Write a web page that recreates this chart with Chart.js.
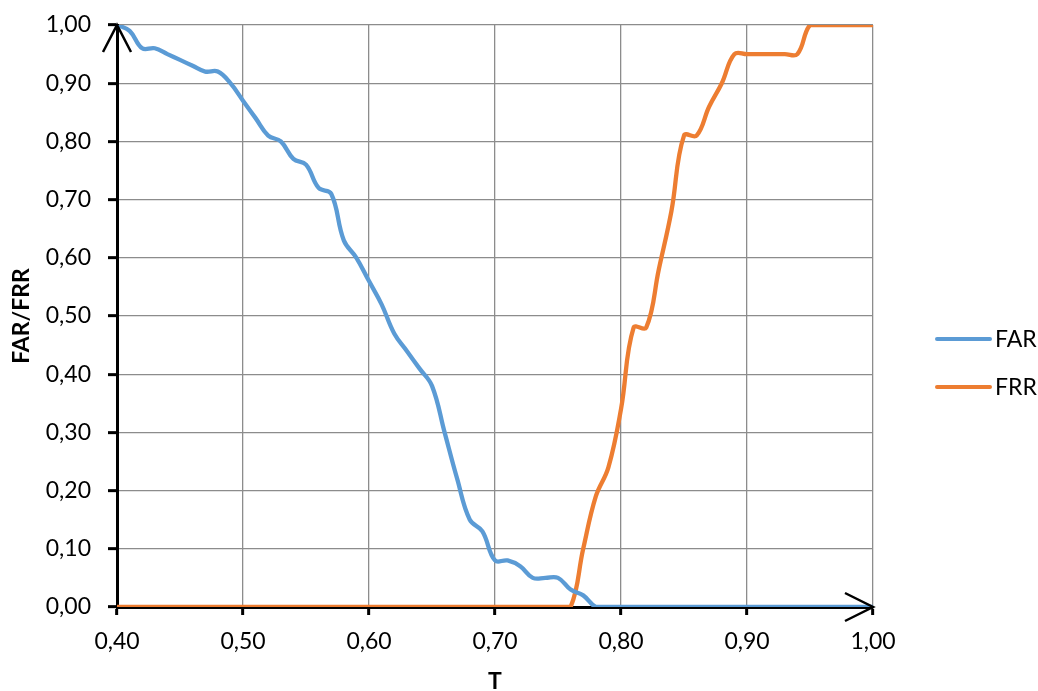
<!DOCTYPE html>
<html>
<head>
<meta charset="utf-8">
<title>FAR / FRR</title>
<script src="https://cdn.jsdelivr.net/npm/chart.js@4.4.1/dist/chart.umd.min.js"></script>
<style>
  html, body { margin: 0; padding: 0; background: #ffffff; }
  #wrap { width: 1038px; height: 691px; }
</style>
</head>
<body>
<div id="wrap"><canvas id="c" width="1038" height="691"></canvas></div>
<script>
// Threshold values T
const thresholds = [
  0.40, 0.41, 0.42, 0.43, 0.44, 0.45, 0.46, 0.47, 0.48, 0.49,
  0.50, 0.51, 0.52, 0.53, 0.54, 0.55, 0.56, 0.57, 0.58, 0.59,
  0.60, 0.61, 0.62, 0.63, 0.64, 0.65, 0.66, 0.67, 0.68, 0.69,
  0.70, 0.71, 0.72, 0.73, 0.74, 0.75, 0.76, 0.77, 0.78, 0.79,
  0.80, 0.81, 0.82, 0.83, 0.84, 0.85, 0.86, 0.87, 0.88, 0.89,
  0.90, 0.91, 0.92, 0.93, 0.94, 0.95, 0.96, 0.97, 0.98, 0.99,
  1.00
];

// False acceptance rate per threshold
const farValues = [
  1.00, 0.99, 0.96, 0.96, 0.95, 0.94, 0.93, 0.92, 0.92, 0.90,
  0.87, 0.84, 0.81, 0.80, 0.77, 0.76, 0.72, 0.71, 0.63, 0.60,
  0.56, 0.52, 0.47, 0.44, 0.41, 0.38, 0.30, 0.22, 0.15, 0.13,
  0.08, 0.08, 0.07, 0.05, 0.05, 0.05, 0.03, 0.02, 0.00, 0.00,
  0.00, 0.00, 0.00, 0.00, 0.00, 0.00, 0.00, 0.00, 0.00, 0.00,
  0.00, 0.00, 0.00, 0.00, 0.00, 0.00, 0.00, 0.00, 0.00, 0.00,
  0.00
];

// False rejection rate per threshold
const frrValues = [
  0.00, 0.00, 0.00, 0.00, 0.00, 0.00, 0.00, 0.00, 0.00, 0.00,
  0.00, 0.00, 0.00, 0.00, 0.00, 0.00, 0.00, 0.00, 0.00, 0.00,
  0.00, 0.00, 0.00, 0.00, 0.00, 0.00, 0.00, 0.00, 0.00, 0.00,
  0.00, 0.00, 0.00, 0.00, 0.00, 0.00, 0.00, 0.10, 0.19, 0.24,
  0.34, 0.48, 0.48, 0.58, 0.68, 0.81, 0.81, 0.86, 0.90, 0.95,
  0.95, 0.95, 0.95, 0.95, 0.95, 1.00, 1.00, 1.00, 1.00, 1.00,
  1.00
];

const seriesNames = ['FAR', 'FRR'];
const seriesColors = ['#5b9bd5', '#ed7d31'];
const xTicks = [0.40, 0.50, 0.60, 0.70, 0.80, 0.90, 1.00];
const xTitle = 'T';
const yTitle = 'FAR/FRR';

const FONT = 'Lato, "Open Sans", "DejaVu Sans", sans-serif';
const fmt = v => Number(v).toFixed(2).replace('.', ',');

const toPoints = vals => thresholds.map((t, i) => ({ x: t, y: vals[i] }));

// Arrow heads at the end of both axes
const axisArrows = {
  id: 'axisArrows',
  afterDatasetsDraw(chart) {
    const { ctx, chartArea: a } = chart;
    ctx.save();
    ctx.strokeStyle = '#000';
    ctx.lineWidth = 2.5;
    ctx.lineCap = 'butt';
    ctx.lineJoin = 'miter';
    // y axis, pointing up
    ctx.beginPath();
    ctx.moveTo(a.left - 14, a.top + 27);
    ctx.lineTo(a.left, a.top);
    ctx.lineTo(a.left + 14, a.top + 27);
    ctx.stroke();
    // x axis, pointing right
    ctx.beginPath();
    ctx.moveTo(a.right - 28, a.bottom - 14);
    ctx.lineTo(a.right, a.bottom);
    ctx.lineTo(a.right - 28, a.bottom + 14);
    ctx.stroke();
    ctx.restore();
  }
};

// Legend on the right side
const sideLegend = {
  id: 'sideLegend',
  afterDraw(chart) {
    const { ctx, chartArea: a } = chart;
    ctx.save();
    ctx.font = '23px ' + FONT;
    ctx.textBaseline = 'middle';
    ctx.textAlign = 'left';
    const x0 = a.right + 64;
    const y0 = a.top + 314;
    chart.data.datasets.forEach((ds, i) => {
      const y = y0 + i * 48;
      ctx.strokeStyle = ds.borderColor;
      ctx.lineWidth = 4;
      ctx.lineCap = 'round';
      ctx.beginPath();
      ctx.moveTo(x0, y);
      ctx.lineTo(x0 + 53, y);
      ctx.stroke();
      ctx.fillStyle = '#000';
      ctx.fillText(ds.label, x0 + 58, y + 1);
    });
    ctx.restore();
  }
};

new Chart(document.getElementById('c'), {
  type: 'line',
  data: {
    datasets: [
      {
        label: seriesNames[0],
        data: toPoints(farValues),
        borderColor: seriesColors[0],
        borderWidth: 4.3,
        pointRadius: 0,
        tension: 0.4,
        fill: false
      },
      {
        label: seriesNames[1],
        data: toPoints(frrValues),
        borderColor: seriesColors[1],
        borderWidth: 4.3,
        pointRadius: 0,
        tension: 0.4,
        fill: false
      }
    ]
  },
  options: {
    responsive: false,
    devicePixelRatio: 1,
    animation: false,
    layout: { padding: { top: 25, right: 165, left: 0, bottom: 0 } },
    plugins: {
      legend: { display: false },
      tooltip: { enabled: false }
    },
    scales: {
      x: {
        type: 'linear',
        min: 0.4,
        max: 1.0,
        afterBuildTicks: s => { s.ticks = xTicks.map(v => ({ value: v })); },
        afterFit: s => { s.height = 84; },
        ticks: {
          callback: v => fmt(v),
          font: { family: FONT, size: 23 },
          color: '#000',
          padding: 13,
          maxRotation: 0,
          autoSkip: false
        },
        grid: {
          color: '#8c8c8c',
          lineWidth: 1.3,
          tickColor: '#000',
          tickLength: 8,
          tickWidth: 3
        },
        border: { color: '#000', width: 3 },
        title: {
          display: true,
          text: xTitle,
          font: { family: FONT, size: 23, weight: 'bold' },
          color: '#000',
          padding: { top: 0, bottom: -4 }
        }
      },
      y: {
        min: 0,
        max: 1,
        afterFit: s => { s.width = 117; s.paddingTop = 0; s.paddingBottom = 0; },
        ticks: {
          stepSize: 0.1,
          callback: v => fmt(v),
          font: { family: FONT, size: 23 },
          color: '#000',
          padding: 17
        },
        grid: {
          color: '#8c8c8c',
          lineWidth: 1.3,
          tickColor: '#000',
          tickLength: 9,
          tickWidth: 3
        },
        border: { color: '#000', width: 3 },
        title: {
          display: true,
          text: yTitle,
          font: { family: FONT, size: 23, weight: 'bold' },
          color: '#000',
          padding: { top: 8, bottom: 0 }
        }
      }
    }
  },
  plugins: [axisArrows, sideLegend]
});
</script>
</body>
</html>
